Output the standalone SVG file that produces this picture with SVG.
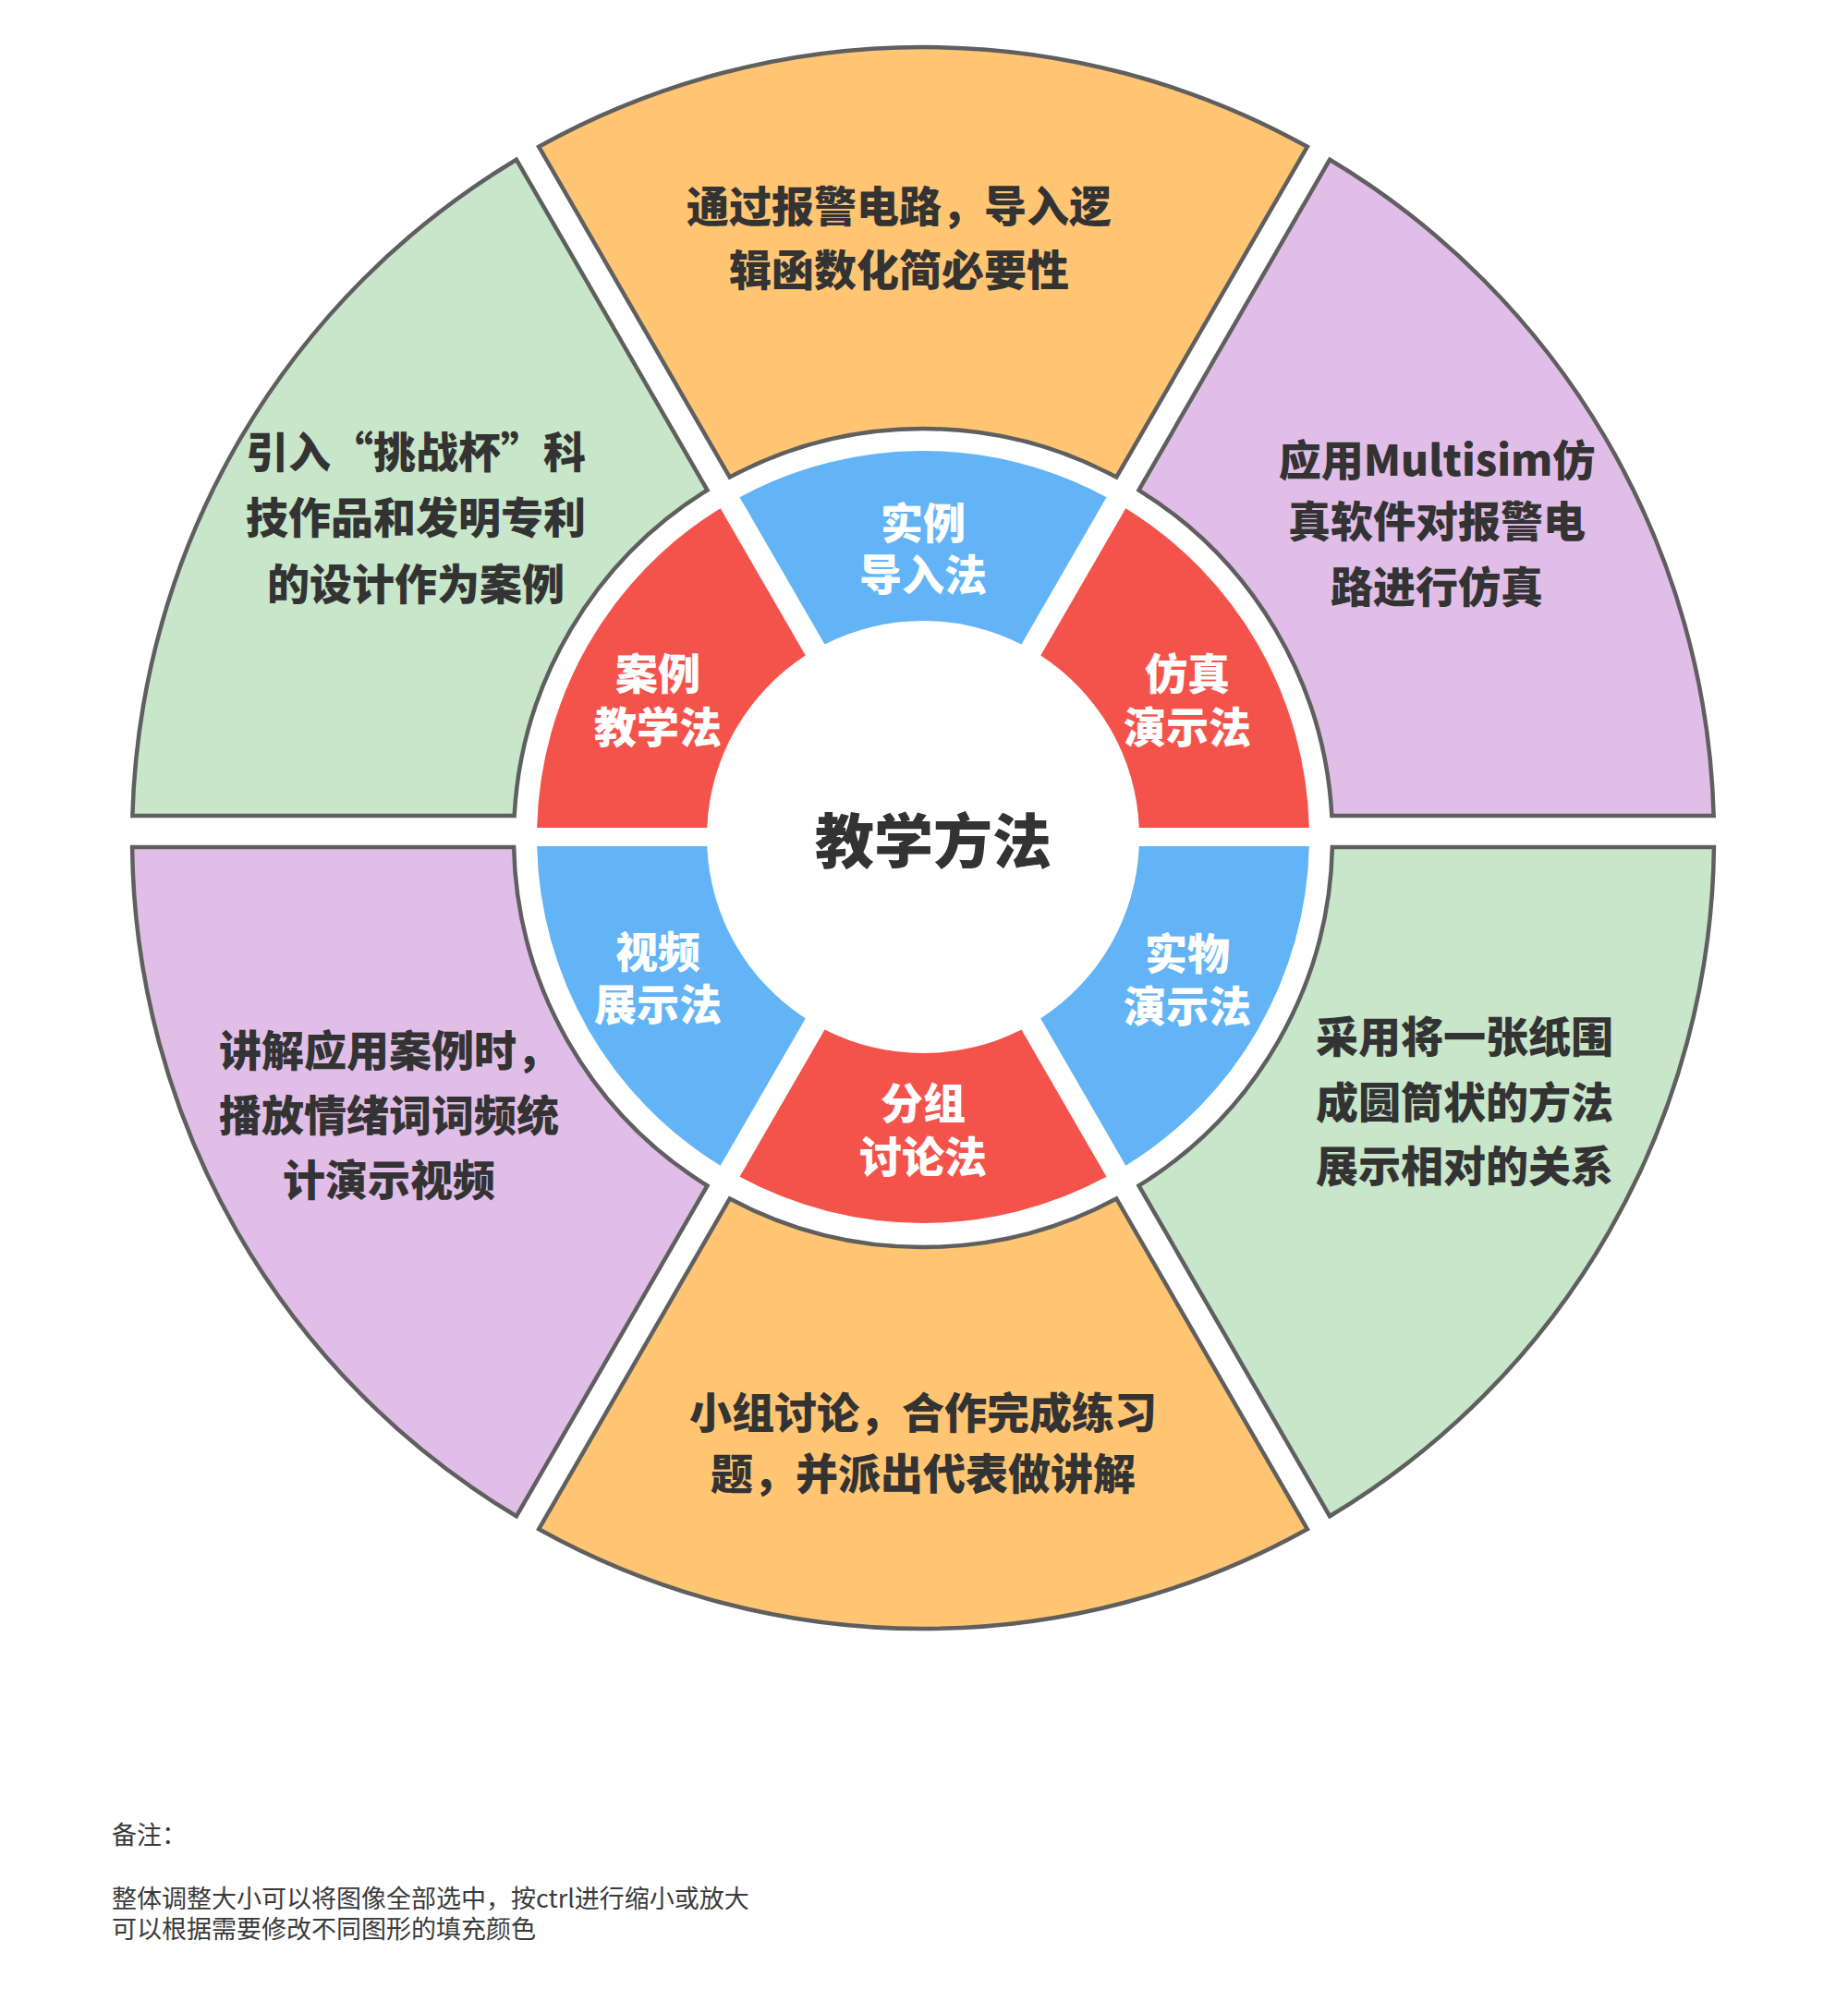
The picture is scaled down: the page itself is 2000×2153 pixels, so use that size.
<svg xmlns="http://www.w3.org/2000/svg" width="2000" height="2153" viewBox="0 0 2000 2153">
<style>
.seg{stroke:#5f5f5f;stroke-width:4.5;stroke-linejoin:miter}
.org{fill:#FFC573}.grn{fill:#C8E6C9}.pur{fill:#E1BEE7}
.red{fill:#F4534B}.blu{fill:#63B4F6}
.t{font-family:"Noto Sans CJK SC","Noto Sans",sans-serif;font-weight:900;font-size:46px;text-anchor:middle}
.dk{fill:#333333}.wt{fill:#ffffff}
.ctr{font-family:"Noto Sans CJK SC","Noto Sans",sans-serif;font-weight:900;font-size:64px;text-anchor:middle;fill:#333333}
.note{font-family:"Noto Sans CJK SC","Noto Sans",sans-serif;font-weight:400;font-size:27px;fill:#3a3a3a}
</style>
<rect width="2000" height="2153" fill="#ffffff"/>

<g id="outer-top">
<path class="seg org" d="M583.18,158.78 A856,856 0 0 1 1414.82,158.78 L1208.27,516.54 A443,443 0 0 0 789.73,516.54 Z"/>
<text class="t dk" x="973" y="240">通过报警电路，导入逻</text>
<text class="t dk" x="973" y="309">辑函数化简必要性</text>
</g>
<g id="outer-upper-right">
<path class="seg pur" d="M1439.07,172.78 A856,856 0 0 1 1854.66,883 L1441.35,883 A443,443 0 0 0 1232.51,530.54 Z"/>
<text class="t dk" x="1555" y="515">应用Multisim仿</text>
<text class="t dk" x="1555" y="581">真软件对报警电</text>
<text class="t dk" x="1555" y="652">路进行仿真</text>
</g>
<g id="outer-lower-right">
<path class="seg grn" d="M1854.94,917 A856,856 0 0 1 1439.07,1641.22 L1232.51,1283.46 A443,443 0 0 0 1441.89,917 Z"/>
<text class="t dk" x="1585" y="1139">采用将一张纸围</text>
<text class="t dk" x="1585" y="1210">成圆筒状的方法</text>
<text class="t dk" x="1585" y="1279">展示相对的关系</text>
</g>
<g id="outer-bottom">
<path class="seg org" d="M1414.82,1655.22 A856,856 0 0 1 583.18,1655.22 L789.73,1297.46 A443,443 0 0 0 1208.27,1297.46 Z"/>
<text class="t dk" x="999" y="1546">小组讨论，合作完成练习</text>
<text class="t dk" x="999" y="1612">题，并派出代表做讲解</text>
</g>
<g id="outer-lower-left">
<path class="seg pur" d="M558.93,1641.22 A856,856 0 0 1 143.06,917 L556.11,917 A443,443 0 0 0 765.49,1283.46 Z"/>
<text class="t dk" x="421" y="1154">讲解应用案例时，</text>
<text class="t dk" x="421" y="1224">播放情绪词词频统</text>
<text class="t dk" x="421" y="1294">计演示视频</text>
</g>
<g id="outer-upper-left">
<path class="seg grn" d="M143.34,883 A856,856 0 0 1 558.93,172.78 L765.49,530.54 A443,443 0 0 0 556.65,883 Z"/>
<text class="t dk" x="450" y="506">引入“挑战杯”科</text>
<text class="t dk" x="450" y="577">技作品和发明专利</text>
<text class="t dk" x="450" y="649">的设计作为案例</text>
</g>

<g id="inner-top">
<path class="blu" d="M800.48,538.15 A418,418 0 0 1 1197.52,538.15 L1105.45,697.62 A234,234 0 0 0 892.55,697.62 Z"/>
<text class="t wt" x="999" y="583">实例</text>
<text class="t wt" x="999" y="639">导入法</text>
</g>
<g id="inner-upper-right">
<path class="red" d="M1218.31,550.15 A418,418 0 0 1 1416.88,896 L1232.79,896 A234,234 0 0 0 1126.24,709.62 Z"/>
<text class="t wt" x="1285" y="746">仿真</text>
<text class="t wt" x="1285" y="804">演示法</text>
</g>
<g id="inner-lower-right">
<path class="blu" d="M1416.88,916 A418,418 0 0 1 1218.31,1261.85 L1126.24,1102.38 A234,234 0 0 0 1232.79,916 Z"/>
<text class="t wt" x="1285" y="1049">实物</text>
<text class="t wt" x="1285" y="1106">演示法</text>
</g>
<g id="inner-bottom">
<path class="red" d="M1197.52,1273.85 A418,418 0 0 1 800.48,1273.85 L892.55,1114.38 A234,234 0 0 0 1105.45,1114.38 Z"/>
<text class="t wt" x="999" y="1211">分组</text>
<text class="t wt" x="999" y="1269">讨论法</text>
</g>
<g id="inner-lower-left">
<path class="blu" d="M779.69,1261.85 A418,418 0 0 1 581.12,916 L765.21,916 A234,234 0 0 0 871.76,1102.38 Z"/>
<text class="t wt" x="712" y="1047">视频</text>
<text class="t wt" x="712" y="1104">展示法</text>
</g>
<g id="inner-upper-left">
<path class="red" d="M581.12,896 A418,418 0 0 1 779.69,550.15 L871.76,709.62 A234,234 0 0 0 765.21,896 Z"/>
<text class="t wt" x="712" y="746">案例</text>
<text class="t wt" x="712" y="804">教学法</text>
</g>

<g id="center">
<text class="ctr" x="1010" y="934">教学方法</text>
</g>

<g id="note">
<text class="note" x="121" y="1996">备注：</text>
<text class="note" x="121" y="2065">整体调整大小可以将图像全部选中，按ctrl进行缩小或放大</text>
<text class="note" x="121" y="2098">可以根据需要修改不同图形的填充颜色</text>
</g>
</svg>
